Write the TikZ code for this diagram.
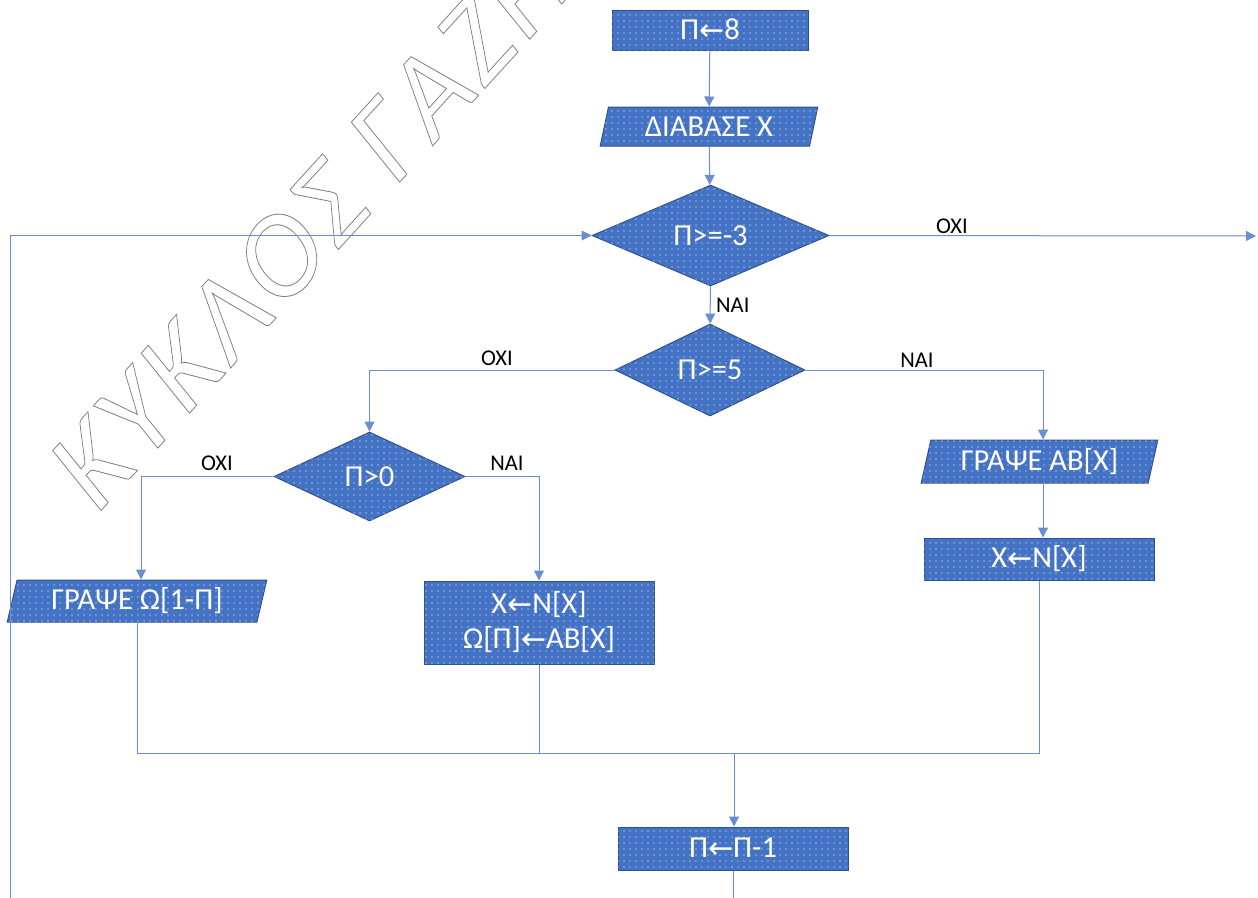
\documentclass[tikz,border=0pt]{standalone}
\usepackage{fontspec}
\setmainfont{Carlito}
\newfontfamily\arrfont{DejaVu Sans}
\newfontfamily\wmfont[LetterSpace=4.5]{Carlito}
\usetikzlibrary{shapes.geometric,arrows.meta,patterns.meta}
\definecolor{shapeblue}{HTML}{4472C4}
\definecolor{shapeedge}{HTML}{2F528F}
\definecolor{lineblue}{HTML}{6A8ED3}
\newcommand\la{\raisebox{-1pt}{\arrfont\fontsize{30}{30}\selectfont←}}
\tikzset{
  fbase/.style={draw=shapeedge, line width=1pt, fill=shapeblue,
    postaction={pattern={Dots[radius=0.7pt,distance=6pt]}, pattern color=white},
    text=white, font=\fontsize{30.5}{35}\selectfont, inner sep=0pt, align=center},
  procbox/.style={fbase, rectangle, minimum width=#1},
  iobox/.style={fbase, trapezium, trapezium left angle=75, trapezium right angle=105,
    trapezium stretches=true, minimum width=#1},
  decision/.style={fbase, diamond},
  conn/.style={draw=lineblue, line width=1pt},
  arr/.style={conn, -{Triangle[length=10pt,width=10pt]}},
  lbl/.style={font=\fontsize{22.5}{25}\selectfont, text=black, inner sep=0pt},
  wmark/.style={inner sep=0pt, font=\wmfont\fontsize{120}{125}\selectfont}
}
\begin{document}
\begin{tikzpicture}[x=1pt,y=-1pt]
\useasboundingbox (0,0) rectangle (1258,897);
\clip (0,0) rectangle (1258,897);
% watermark
\node[wmark, anchor=base west, cm={0.673,0.74,-0.628,0.778,(0,0)}] (wm) at (96,516)
  {\special{pdf:literal direct 1 Tr 0.8 w 0.5 0.5 0.5 RG}ΚΥΚΛΟΣ ΓΑΖΗ\special{pdf:literal direct 0 Tr}};
% nodes
\node[procbox=196pt, minimum height=40pt] (p8) at (710,30) {Π\la8};
\node[iobox=218pt, minimum height=39pt] (read) at (709,126.5) {ΔΙΑΒΑΣΕ Χ};
\node[decision, minimum width=237pt, minimum height=101pt] (d1) at (710.5,235.5) {Π>=-3};
\node[decision, minimum width=190pt, minimum height=92pt] (d2) at (710,370) {Π>=5};
\node[decision, minimum width=191pt, minimum height=89pt] (d3) at (369.5,476.5) {Π>0};
\node[iobox=260pt, minimum height=42pt] (wO) at (137,601) {ΓΡΑΨΕ Ω[1-Π]};
\node[procbox=230pt, minimum height=83pt] (nb) at (539,622.5) {Χ\la N[X]\\Ω[Π]\la ΑΒ[Χ]};
\node[iobox=237pt, minimum height=43pt] (wAB) at (1039.5,461.5) {ΓΡΑΨΕ ΑΒ[Χ]};
\node[procbox=230pt, minimum height=42pt] (xn) at (1039,559) {Χ\la N[X]};
\node[procbox=230pt, minimum height=43pt] (dec) at (733,848.5) {Π\la Π-1};
\coordinate (exitR) at (1256,236);
\coordinate (m) at (734,753);
\coordinate (lb) at (10,920);
% connectors
\draw[arr] (p8) -- (read);
\draw[arr] (read) -- (d1);
\draw[arr] (d1) -- (d2);
\node[lbl, anchor=west] (nai1) at (716,305) {ΝΑΙ};
\draw[arr] (d1.east) -- (exitR);
\node[lbl] (oxi1) at (952,226) {ΟΧΙ};
\draw[arr] (d2.west) -| (d3.north);
\node[lbl] (oxi2) at (497,358) {ΟΧΙ};
\draw[arr] (d2.east) -| ([xshift=3.5pt]wAB.north);
\node[lbl] (nai2) at (917,360) {ΝΑΙ};
\draw[arr] (d3.west) -| ([xshift=4pt]wO.north);
\node[lbl] (oxi3) at (217,463) {ΟΧΙ};
\draw[arr] (d3.east) -| (nb.north);
\node[lbl] (nai3) at (507,463) {ΝΑΙ};
\draw[arr] ([xshift=3.5pt]wAB.south) -- ([xshift=3.5pt]wAB.south |- xn.north);
\draw[conn] (wO.south) |- (m);
\draw[conn] (xn.south) |- (m);
\draw[conn] (nb.south) |- (m);
\draw[arr] (m) -- (m |- dec.north);
\draw[arr] (dec.south) |- (lb) |- (d1.west);
\end{tikzpicture}
\end{document}
